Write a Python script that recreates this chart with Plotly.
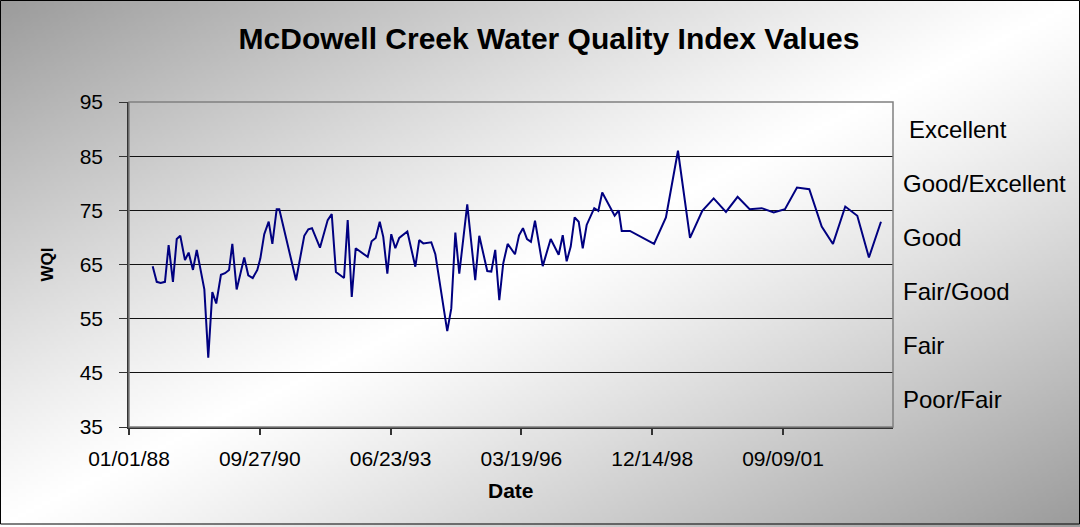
import base64, struct, zlib
import plotly.graph_objects as go

# ---------------- data ----------------
sample_dates = [
    "1988-06-30", "1988-07-31", "1988-08-30", "1988-10-02", "1988-10-30", "1988-12-02",
    "1988-12-31", "1989-01-27", "1989-03-04", "1989-04-01", "1989-05-04", "1989-06-02",
    "1989-07-30", "1989-08-29", "1989-09-29", "1989-10-29", "1989-12-04", "1990-01-04",
    "1990-02-04", "1990-03-01", "1990-04-03", "1990-05-31", "1990-07-01", "1990-08-04",
    "1990-09-08", "1990-10-01", "1990-10-31", "1990-12-04", "1991-01-01", "1991-02-03",
    "1991-02-23", "1991-07-01", "1991-09-02", "1991-10-03", "1991-10-31", "1991-12-31",
    "1992-02-28", "1992-03-30", "1992-05-01", "1992-07-02", "1992-07-30", "1992-08-30",
    "1992-09-29", "1992-12-30", "1993-01-29", "1993-03-01", "1993-04-01", "1993-04-28",
    "1993-05-29", "1993-06-28", "1993-07-29", "1993-08-28", "1993-10-29", "1993-12-29",
    "1994-01-28", "1994-02-28", "1994-04-30", "1994-05-31", "1994-08-30", "1994-09-30",
    "1994-10-31", "1994-11-30", "1995-01-30", "1995-04-01", "1995-05-02", "1995-07-02",
    "1995-08-02", "1995-09-01", "1995-10-02", "1995-11-01", "1995-12-05", "1996-01-30",
    "1996-03-01", "1996-03-31", "1996-05-01", "1996-05-31", "1996-07-01", "1996-08-29",
    "1996-10-29", "1996-12-29", "1997-01-29", "1997-02-28", "1997-03-31", "1997-04-30",
    "1997-05-31", "1997-07-01", "1997-07-31", "1997-09-27", "1997-10-28", "1997-11-27",
    "1998-03-02", "1998-04-02", "1998-04-25", "1998-06-27", "1998-12-28", "1999-03-29",
    "1999-06-29", "1999-09-29", "2000-01-01", "2000-03-28", "2000-06-30", "2000-09-27",
    "2000-12-28", "2001-03-30", "2001-06-30", "2001-09-24", "2001-12-25", "2002-03-29",
    "2002-07-02", "2002-09-26", "2002-12-29", "2003-03-31", "2003-06-28", "2003-09-28",
]
wqi_values = [
    64.7, 61.8, 61.6, 61.8, 68.6, 61.8, 69.7, 70.3, 65.8, 67.2, 64.0, 67.7,
    60.4, 47.8, 59.9, 57.8, 63.1, 63.4, 64.0, 68.8, 60.4, 66.3, 63.0, 62.5,
    64.0, 66.1, 70.6, 72.9, 68.8, 75.2, 75.2, 62.1, 70.3, 71.5, 71.7, 68.1,
    73.2, 74.3, 63.6, 62.5, 73.2, 59.0, 68.0, 66.4, 69.3, 69.9, 72.9, 70.1,
    63.3, 70.6, 68.0, 69.9, 71.1, 64.6, 69.5, 68.9, 69.1, 66.9, 52.7, 56.9,
    70.9, 63.3, 76.1, 62.1, 70.3, 63.8, 63.7, 67.7, 58.4, 65.2, 68.8, 66.9,
    70.4, 71.7, 69.7, 69.2, 73.1, 64.7, 69.7, 66.8, 70.4, 65.6, 68.3, 73.7,
    72.9, 68.0, 72.3, 75.4, 74.9, 78.3, 74.0, 75.0, 71.2, 71.2, 68.8, 73.7,
    86.0, 69.9, 74.9, 77.2, 74.7, 77.5, 75.2, 75.4, 74.6, 75.2, 79.2, 78.9,
    72.0, 68.8, 75.7, 74.0, 66.3, 72.9,
]
x_tick_dates = ["1988-01-01", "1990-09-27", "1993-06-23", "1996-03-19", "1998-12-14", "2001-09-09"]
x_tick_labels = ["01/01/88", "09/27/90", "06/23/93", "03/19/96", "12/14/98", "09/09/01"]
x_range = ["1988-01-01", "2003-12-29"]
y_ticks = [35, 45, 55, 65, 75, 85, 95]
band_labels = ["Poor/Fair", "Fair", "Fair/Good", "Good", "Good/Excellent", "Excellent"]

# ---------------- layout geometry ----------------
W, H = 1080, 527
ML, MR, MT, MB = 129, 187, 102, 100
PW, PH = W - ML - MR, H - MT - MB
FONT = "Liberation Sans, Arial, sans-serif"


def gradient_png(w=270, h=132):
    rows = b""
    for j in range(h):
        row = bytearray([0])
        for i in range(w):
            t = (i / (w - 1) + j / (h - 1)) / 2.0
            d = abs(2 * t - 1) ** 1.15
            g = int(round(255 - 100 * d))
            row.append(g)
        rows += bytes(row)

    def chunk(tag, data):
        c = struct.pack(">I", len(data)) + tag + data
        return c + struct.pack(">I", zlib.crc32(tag + data) & 0xFFFFFFFF)

    png = b"\x89PNG\r\n\x1a\n"
    png += chunk(b"IHDR", struct.pack(">IIBBBBB", w, h, 8, 0, 0, 0, 0))
    png += chunk(b"IDAT", zlib.compress(rows, 9))
    png += chunk(b"IEND", b"")
    return "data:image/png;base64," + base64.b64encode(png).decode()


fig = go.Figure()
fig.add_trace(go.Scatter(
    x=sample_dates, y=wqi_values, mode="lines",
    line=dict(color="#000080", width=2), showlegend=False, hoverinfo="x+y",
))

px_x = lambda p: (p - ML) / PW
px_y = lambda p: 1 - (p - MT) / PH

annotations = []
for i, lab in enumerate(band_labels):
    mid = (y_ticks[i] + y_ticks[i + 1]) / 2
    annotations.append(dict(
        x=1, xref="paper", y=mid, yref="y", text=lab, showarrow=False,
        xanchor="left", yanchor="middle", xshift=8 if lab != "Excellent" else 14,
        font=dict(family=FONT, size=24, color="#000"),
    ))
annotations.append(dict(
    x=px_x(47), xref="paper", y=0.5, yref="paper", text="<b>WQI</b>", textangle=-90,
    showarrow=False, xanchor="center", yanchor="middle",
    font=dict(family=FONT, size=17, color="#000"),
))
annotations.append(dict(
    x=0.5, xref="paper", y=px_y(490), yref="paper", text="<b>Date</b>",
    showarrow=False, xanchor="center", yanchor="middle",
    font=dict(family=FONT, size=21, color="#000"),
))

shapes = [
    dict(type="rect", xref="paper", yref="paper", x0=0, x1=1, y0=0, y1=1,
         line=dict(color="#808080", width=1.5), layer="above"),
    dict(type="rect", xref="paper", yref="paper",
         x0=px_x(0.5), x1=px_x(W - 0.5), y0=px_y(H - 3), y1=px_y(0.5),
         line=dict(color="#000", width=1), layer="above"),
]

fig.update_layout(
    width=W, height=H,
    margin=dict(l=ML, r=MR, t=MT, b=MB),
    paper_bgcolor="white", plot_bgcolor="rgba(0,0,0,0)",
    title=dict(text="<b>McDowell Creek Water Quality Index Values</b>",
               x=549 / W, xref="container", xanchor="center",
               y=1 - 38 / H, yref="container", yanchor="middle",
               font=dict(family=FONT, size=30, color="#000")),
    xaxis=dict(type="date", range=x_range, tickvals=x_tick_dates, ticktext=x_tick_labels,
               ticks="outside", ticklen=6, tickwidth=1.5, tickcolor="#333", showgrid=False,
               showline=True, linecolor="#333", linewidth=1.5, zeroline=False,
               ticklabelstandoff=6,
               tickfont=dict(family=FONT, size=21, color="#000")),
    yaxis=dict(range=[35, 95], tickvals=y_ticks, ticks="outside", ticklen=8,
               tickcolor="#333", showgrid=True, gridcolor="#111", gridwidth=1,
               showline=True, linecolor="#333", linewidth=1.5, zeroline=False,
               ticklabelstandoff=12,
               tickfont=dict(family=FONT, size=21, color="#000")),
    annotations=annotations,
    shapes=shapes,
    images=[dict(source=gradient_png(), xref="paper", yref="paper",
                 x=px_x(0), y=px_y(0), sizex=W / PW, sizey=H / PH,
                 xanchor="left", yanchor="top", sizing="stretch", layer="below")],
)

fig.write_html("out.html", config={"displayModeBar": False},
               post_script="document.body.style.margin='0';")
